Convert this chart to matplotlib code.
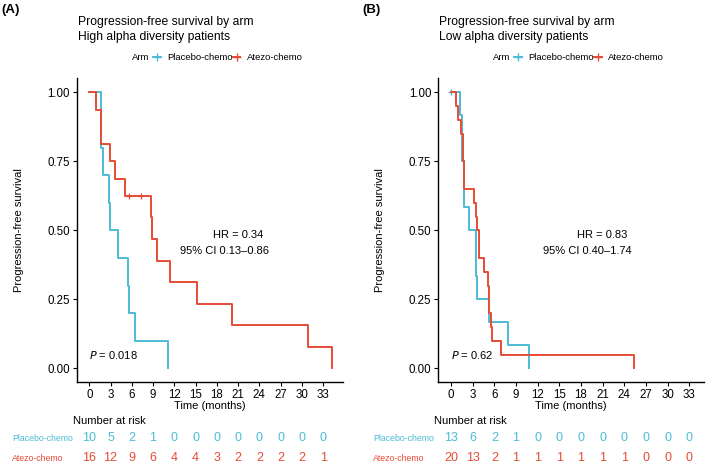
import numpy as np
import matplotlib
matplotlib.use('Agg')
import matplotlib.pyplot as plt
from matplotlib.lines import Line2D

plt.rcParams['font.family'] = ['Liberation Sans', 'DejaVu Sans']

# Colours (ggsci npg style)
blue = '#4DBBD5'
red = '#E64B35'

arms = ['Placebo-chemo', 'Atezo-chemo']
panel_tags = ['(A)', '(B)']
subtitles = ['High alpha diversity patients', 'Low alpha diversity patients']

# Event / censor times (months)
a_placebo_events = [1.7, 1.7, 1.9, 2.8, 2.9, 4.1, 5.4, 5.6, 6.5, 11.1]
a_placebo_cens = []
a_atezo_events = [1.0, 1.6, 1.6, 2.9, 3.6, 5.1, 8.7, 8.9, 9.6, 11.4, 15.2, 20.1, 30.9, 34.3]
a_atezo_cens = [5.6, 7.3]

b_placebo_events = [1.25, 1.53, 1.53, 1.77, 1.77, 2.5, 3.4, 3.4, 3.6, 5.2, 7.9, 10.85]
b_placebo_cens = [0.0]
b_atezo_events = [0.7, 1.0, 1.35, 1.6, 1.7, 1.8, 1.8, 3.2, 3.4, 3.65, 3.85, 3.85,
                  4.5, 5.1, 5.3, 5.3, 5.55, 5.65, 6.9, 25.3]
b_atezo_cens = []

risk_times = [0, 3, 6, 9, 12, 15, 18, 21, 24, 27, 30, 33]
a_placebo_risk = [10, 5, 2, 1, 0, 0, 0, 0, 0, 0, 0, 0]
a_atezo_risk = [16, 12, 9, 6, 4, 4, 3, 2, 2, 2, 2, 1]
b_placebo_risk = [13, 6, 2, 1, 0, 0, 0, 0, 0, 0, 0, 0]
b_atezo_risk = [20, 13, 2, 1, 1, 1, 1, 1, 1, 0, 0, 0]

hr_text = ['HR = 0.34', 'HR = 0.83']
ci_text = ['95% CI 0.13\u20130.86', '95% CI 0.40\u20131.74']
p_values = ['0.018', '0.62']


def km(events, cens):
    events = np.array(events, dtype=float)
    cens = np.array(cens, dtype=float)
    n = len(events) + len(cens)
    xs, ys = [0.0], [1.0]
    s = 1.0
    for t in np.unique(events):
        at_risk = n - np.sum(events < t) - np.sum(cens < t)
        d = np.sum(events == t)
        s = s * (1 - d / at_risk)
        xs.append(t)
        ys.append(s)
    # survival at censor times
    cy = []
    for c in cens:
        idx = np.searchsorted(xs, c, side='right') - 1
        cy.append(ys[max(idx, 0)])
    return xs, ys, list(cens), cy


W, H = 709, 470
fig = plt.figure(figsize=(W / 100, H / 100), dpi=100)


def fx(x):
    return x / W


def fy(y):
    return 1 - y / H


panels = [
    dict(left=77, xlim=(-1.73, 35.8),
         curves=[(a_placebo_events, a_placebo_cens, blue), (a_atezo_events, a_atezo_cens, red)],
         risks=[a_placebo_risk, a_atezo_risk]),
    dict(left=438.3, xlim=(-1.77, 35.1),
         curves=[(b_placebo_events, b_placebo_cens, blue), (b_atezo_events, b_atezo_cens, red)],
         risks=[b_placebo_risk, b_atezo_risk]),
]

for i, p in enumerate(panels):
    left = p['left']
    ax = fig.add_axes([fx(left), fy(382.3), 266 / W, (382.3 - 78.5) / H])
    for events, cens, col in p['curves']:
        xs, ys, cx, cy = km(events, cens)
        ax.step(xs, ys, where='post', color=col, lw=1.4)
        if cx:
            ax.plot(cx, cy, ls='none', marker='+', color=col, ms=5, mew=0.9)
    ax.set_xlim(*p['xlim'])
    ax.set_ylim(-0.05, 1.05)
    ax.set_xticks(risk_times)
    ax.set_yticks([0, 0.25, 0.5, 0.75, 1.0])
    ax.set_yticklabels(['0.00', '0.25', '0.50', '0.75', '1.00'])
    ax.tick_params(labelsize=8.3, length=3, width=0.8, pad=2, colors='black')
    for side in ['top', 'right']:
        ax.spines[side].set_visible(False)
    for side in ['left', 'bottom']:
        ax.spines[side].set_linewidth(1.0)
    ax.set_xlabel('Time (months)', fontsize=8, labelpad=0)
    ax.set_ylabel('Progression-free survival', fontsize=8, labelpad=17)

    ax.text(17.5, 0.483, hr_text[i], fontsize=8, va='center', ha='left')
    ax.text(12.8, 0.425, ci_text[i], fontsize=8, va='center', ha='left')
    ax.text(0, 0.048, '$\\mathit{P}$ = ' + p_values[i], fontsize=8, va='center', ha='left')

    # titles
    off = 0 if i == 0 else 361
    fig.text(fx(1 + off), fy(13), panel_tags[i], fontsize=9.5, fontweight='bold', va='baseline')
    fig.text(fx(left + 0.5), fy(24.5), 'Progression-free survival by arm', fontsize=8.7, va='baseline')
    fig.text(fx(left + 0.5), fy(40), subtitles[i], fontsize=8.7, va='baseline')

    # legend
    fig.text(fx(left + 55), fy(58), 'Arm', fontsize=6.8, va='center')
    handles = [Line2D([], [], color=blue, lw=1.4, marker='+', ms=6),
               Line2D([], [], color=red, lw=1.4, marker='+', ms=6)]
    fig.legend(handles, arms, ncol=2, frameon=False, fontsize=6.8,
               loc='center left', bbox_to_anchor=(fx(left + 76), fy(58)),
               handlelength=0.8, handletextpad=0.7, columnspacing=0.0,
               borderpad=0, borderaxespad=0)

    # risk table
    fig.text(fx(left - 4), fy(421), 'Number at risk', fontsize=8, va='center')
    rax = fig.add_axes([fx(left), fy(470), 266 / W, 40 / H])
    rax.set_xlim(*p['xlim'])
    rax.set_ylim(470, 430)
    rax.axis('off')
    for row, (arm, col, yy) in enumerate(zip(arms, [blue, red], [438.3, 458.3])):
        fig.text(fx(left - 65), fy(yy), arm, fontsize=6.3, color=col, va='center')
        for t, n in zip(risk_times, p['risks'][row]):
            rax.text(t, yy, str(n), color=col, fontsize=9, ha='center', va='center')

fig.savefig('out.png', dpi=100)
